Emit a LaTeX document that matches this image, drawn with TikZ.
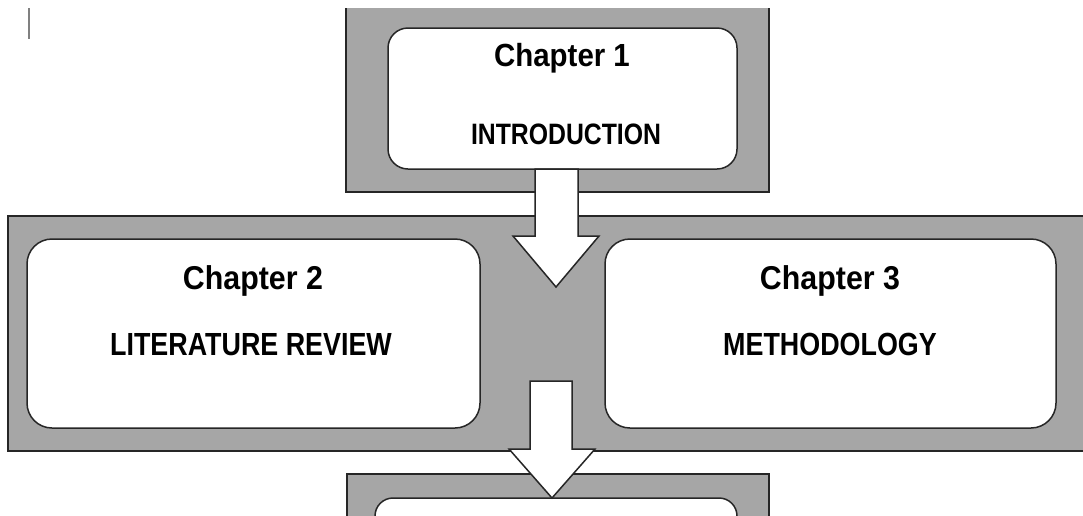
\documentclass[tikz,border=0pt]{standalone}
\usepackage{fontspec}
\setmainfont{Liberation Sans}
\newfontfamily\ttlfont{Liberation Sans}[FakeStretch=0.92]
\newfontfamily\subfont{Liberation Sans}[FakeStretch=0.84]
\definecolor{framegray}{HTML}{A6A6A6}
\definecolor{linegray}{HTML}{262626}
\begin{document}
\begin{tikzpicture}[x=1pt,y=-1pt,
  border/.style={draw=linegray,line width=1.5pt},
  chapbox/.style={draw=linegray,line width=1.5pt,fill=white,rounded corners=#1,inner sep=0pt},
  blockarrow/.style={draw=linegray,line width=1.5pt,fill=white,line join=miter},
  ttl/.style={anchor=base,inner sep=0pt,font=\ttlfont\bfseries\fontsize{#1}{#1}\selectfont},
  sub/.style={anchor=base,inner sep=0pt,font=\subfont\bfseries\fontsize{#1}{#1}\selectfont}]
\useasboundingbox (0,0) rectangle (1083,515);
% cursor mark
\coordinate (m1) at (29,8); \coordinate (m2) at (29,39);
\draw[gray,line width=2pt] (m1) -- (m2);
% gray frames
\fill[framegray] (346,8) rectangle (769,192);
\draw[border] (346,8) -- (346,192) -- (769,192) -- (769,8);
\fill[framegray] (8,216) rectangle (1095,451);
\draw[border] (1095,216) -- (8,216) -- (8,451) -- (1095,451);
\fill[framegray] (347,474) rectangle (769,530);
\draw[border] (347,530) -- (347,474) -- (769,474) -- (769,530);
% white chapter boxes
\node[chapbox=20pt,minimum width=349pt,minimum height=141pt] (c1) at (562.5,98.5) {};
\node[chapbox=25pt,minimum width=453pt,minimum height=189pt] (c2) at (253.5,333.5) {};
\node[chapbox=25pt,minimum width=451pt,minimum height=189pt] (c3) at (830.5,333.5) {};
\node[chapbox=18pt,minimum width=362pt,minimum height=80pt] (c4) at (556,538) {};
% texts
\node[ttl=32] (t1) at (562,66) {Chapter 1};
\node[sub=29.5] (s1) at (566,144) {INTRODUCTION};
\node[ttl=33] (t2) at (253,289) {Chapter 2};
\node[sub=32] (s2) at (251,355) {LITERATURE REVIEW};
\node[ttl=33] (t3) at (830,289) {Chapter 3};
\node[sub=32] (s3) at (830,355) {METHODOLOGY};
% block arrows
\draw[blockarrow] (535,169) -- (578,169) -- (578,236) -- (599,236) -- (556,287) -- (513,236) -- (535,236) -- cycle;
\draw[blockarrow] (530,381) -- (572,381) -- (572,449) -- (595,449) -- (552,498) -- (509,449) -- (530,449) -- cycle;
\end{tikzpicture}
\end{document}
